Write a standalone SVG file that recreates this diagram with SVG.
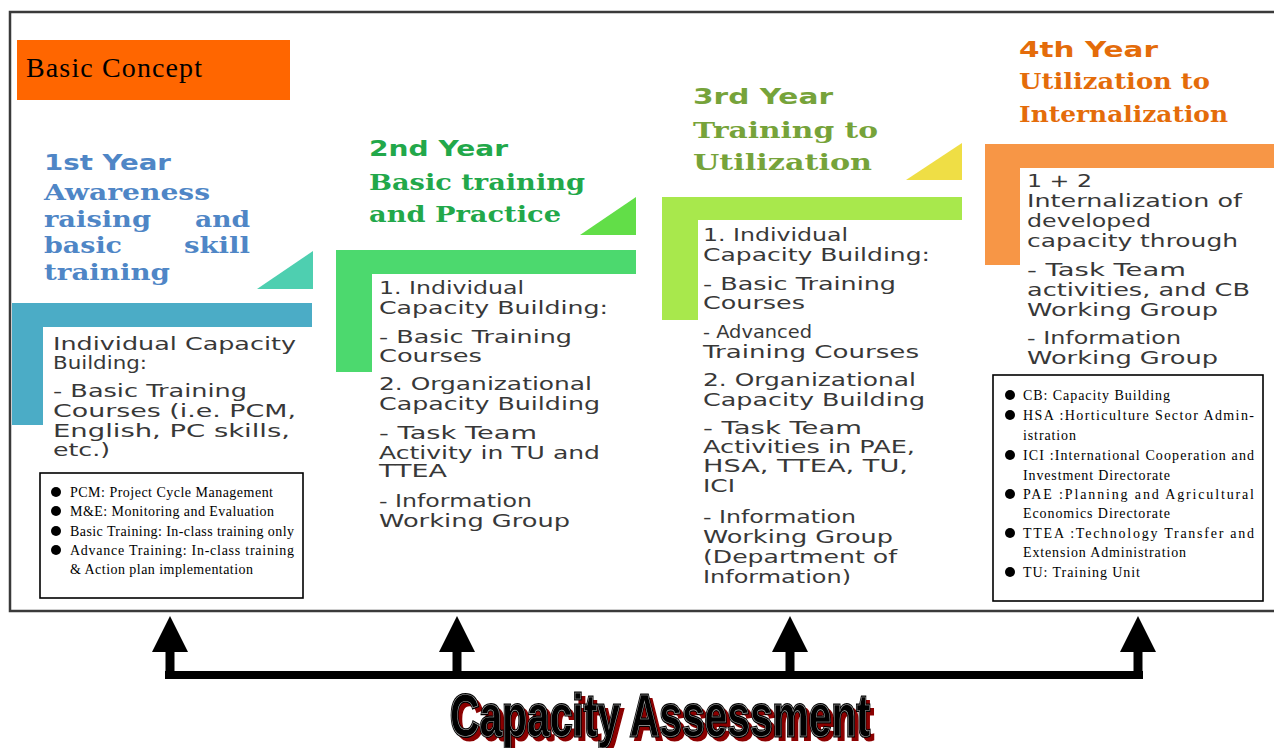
<svg xmlns="http://www.w3.org/2000/svg" width="1274" height="748" viewBox="0 0 1274 748">
<style>
.frame{fill:none;stroke:#3a3a3a;stroke-width:2.5}
.hd{font-family:"DejaVu Sans",sans-serif;font-weight:bold;font-size:22px}
.sub{font-family:"DejaVu Serif",serif;font-weight:bold;font-size:22px}
.body{font-family:"DejaVu Sans",sans-serif;font-size:18px;fill:#383838}
.leg{font-family:"Liberation Serif","Times New Roman",serif;font-size:14px;fill:#000}
.box{fill:#fff;stroke:#000;stroke-width:1.6}
.c1{fill:#4f86c6}.c2{fill:#22a84a}.c3{fill:#76a33a}.c4{fill:#e46c0a}
.conn{fill:none;stroke:#000}
</style>
<defs>
<marker id="ah" markerUnits="userSpaceOnUse" markerWidth="36" markerHeight="36" viewBox="0 0 36 36" refX="0" refY="18" orient="auto">
<path d="M0,0 L36,18 L0,36 Z" fill="#000"/>
</marker>
</defs>
<rect width="1274" height="748" fill="#fff"/>
<rect class="frame" x="10" y="12" width="1280" height="599"/>

<g id="title">
<rect x="17" y="40" width="273" height="60" fill="#ff6600"/>
<text x="26" y="77" font-family="Liberation Serif,serif" font-size="28" textLength="176">Basic Concept</text>
</g>

<g id="year1">
<text class="hd c1" x="44" y="170" textLength="127" lengthAdjust="spacingAndGlyphs">1st Year</text>
<text class="sub c1" x="44" y="200" textLength="166" lengthAdjust="spacingAndGlyphs">Awareness</text>
<text class="sub c1" x="44" y="227" textLength="107" lengthAdjust="spacingAndGlyphs">raising</text>
<text class="sub c1" x="195" y="227" textLength="55" lengthAdjust="spacingAndGlyphs">and</text>
<text class="sub c1" x="44" y="253" textLength="78" lengthAdjust="spacingAndGlyphs">basic</text>
<text class="sub c1" x="184" y="253" textLength="66" lengthAdjust="spacingAndGlyphs">skill</text>
<text class="sub c1" x="44" y="280" textLength="126" lengthAdjust="spacingAndGlyphs">training</text>
<polygon points="257,289 313,251 313,289" fill="#4ecfb0"/>
<path d="M12,303 H312 V327 H43 V425 H12 Z" fill="#4bacc6"/>
<text class="body" x="53" y="350" textLength="243" lengthAdjust="spacingAndGlyphs">Individual  Capacity</text>
<text class="body" x="53" y="369" textLength="94" lengthAdjust="spacingAndGlyphs">Building:</text>
<text class="body" x="53" y="397" textLength="194" lengthAdjust="spacingAndGlyphs">- Basic Training</text>
<text class="body" x="53" y="417" textLength="243" lengthAdjust="spacingAndGlyphs">Courses (i.e. PCM,</text>
<text class="body" x="53" y="437" textLength="237" lengthAdjust="spacingAndGlyphs">English, PC skills,</text>
<text class="body" x="53" y="456" textLength="57" lengthAdjust="spacingAndGlyphs">etc.)</text>
</g>

<g id="legend1">
<rect class="box" x="40" y="473" width="263" height="125"/>
<circle cx="56" cy="492" r="5"/><text class="leg" x="70" y="497" textLength="203">PCM: Project Cycle Management</text>
<circle cx="56" cy="511" r="5"/><text class="leg" x="70" y="516" textLength="204">M&amp;E: Monitoring and Evaluation</text>
<circle cx="56" cy="531" r="5"/><text class="leg" x="70" y="536" textLength="224">Basic Training: In-class training only</text>
<circle cx="56" cy="550" r="5"/><text class="leg" x="70" y="555" textLength="224">Advance Training: In-class training</text>
<text class="leg" x="70" y="574" textLength="183">&amp; Action plan implementation</text>
</g>

<g id="year2">
<text class="hd c2" x="369" y="156" textLength="139" lengthAdjust="spacingAndGlyphs">2nd Year</text>
<text class="sub c2" x="369" y="190" textLength="216" lengthAdjust="spacingAndGlyphs">Basic training</text>
<text class="sub c2" x="369" y="222" textLength="192" lengthAdjust="spacingAndGlyphs">and Practice</text>
<polygon points="580,235 636,197 636,235" fill="#62de48"/>
<path d="M336,250 H636 V274 H372 V372 H336 Z" fill="#4cd96e"/>
<text class="body" x="379" y="294" textLength="145" lengthAdjust="spacingAndGlyphs">1. Individual</text>
<text class="body" x="379" y="314" textLength="229" lengthAdjust="spacingAndGlyphs">Capacity Building:</text>
<text class="body" x="379" y="343" textLength="193" lengthAdjust="spacingAndGlyphs">- Basic Training</text>
<text class="body" x="379" y="362" textLength="103" lengthAdjust="spacingAndGlyphs">Courses</text>
<text class="body" x="379" y="390" textLength="213" lengthAdjust="spacingAndGlyphs">2. Organizational</text>
<text class="body" x="379" y="410" textLength="221" lengthAdjust="spacingAndGlyphs">Capacity Building</text>
<text class="body" x="379" y="439" textLength="158" lengthAdjust="spacingAndGlyphs">- Task Team</text>
<text class="body" x="379" y="459" textLength="221" lengthAdjust="spacingAndGlyphs">Activity in TU and</text>
<text class="body" x="379" y="477" textLength="68" lengthAdjust="spacingAndGlyphs">TTEA</text>
<text class="body" x="379" y="507" textLength="153" lengthAdjust="spacingAndGlyphs">- Information</text>
<text class="body" x="379" y="527" textLength="191" lengthAdjust="spacingAndGlyphs">Working Group</text>
</g>

<g id="year3">
<text class="hd c3" x="693" y="104" textLength="140" lengthAdjust="spacingAndGlyphs">3rd Year</text>
<text class="sub c3" x="693" y="138" textLength="185" lengthAdjust="spacingAndGlyphs">Training to</text>
<text class="sub c3" x="693" y="170" textLength="179" lengthAdjust="spacingAndGlyphs">Utilization</text>
<polygon points="906,180 962,143 962,180" fill="#efde45"/>
<path d="M662,197 H962 V220 H698 V320 H662 Z" fill="#a8e84c"/>
<text class="body" x="703" y="241" textLength="145" lengthAdjust="spacingAndGlyphs">1. Individual</text>
<text class="body" x="703" y="261" textLength="227" lengthAdjust="spacingAndGlyphs">Capacity Building:</text>
<text class="body" x="703" y="290" textLength="193" lengthAdjust="spacingAndGlyphs">- Basic Training</text>
<text class="body" x="703" y="309" textLength="102" lengthAdjust="spacingAndGlyphs">Courses</text>
<text class="body" x="703" y="338" textLength="109" lengthAdjust="spacingAndGlyphs">- Advanced</text>
<text class="body" x="703" y="358" textLength="216" lengthAdjust="spacingAndGlyphs">Training  Courses</text>
<text class="body" x="703" y="386" textLength="213" lengthAdjust="spacingAndGlyphs">2. Organizational</text>
<text class="body" x="703" y="406" textLength="222" lengthAdjust="spacingAndGlyphs">Capacity Building</text>
<text class="body" x="703" y="434" textLength="159" lengthAdjust="spacingAndGlyphs">- Task Team</text>
<text class="body" x="703" y="453" textLength="212" lengthAdjust="spacingAndGlyphs">Activities in PAE,</text>
<text class="body" x="703" y="472" textLength="205" lengthAdjust="spacingAndGlyphs">HSA, TTEA, TU,</text>
<text class="body" x="703" y="492" textLength="32" lengthAdjust="spacingAndGlyphs">ICI</text>
<text class="body" x="703" y="523" textLength="153" lengthAdjust="spacingAndGlyphs">- Information</text>
<text class="body" x="703" y="543" textLength="190" lengthAdjust="spacingAndGlyphs">Working Group</text>
<text class="body" x="703" y="563" textLength="194" lengthAdjust="spacingAndGlyphs">(Department  of</text>
<text class="body" x="703" y="583" textLength="148" lengthAdjust="spacingAndGlyphs">Information)</text>
</g>

<g id="year4">
<text class="hd c4" x="1019" y="57" textLength="139" lengthAdjust="spacingAndGlyphs">4th Year</text>
<text class="sub c4" x="1019" y="89" textLength="191" lengthAdjust="spacingAndGlyphs">Utilization to</text>
<text class="sub c4" x="1019" y="122" textLength="209" lengthAdjust="spacingAndGlyphs">Internalization</text>
<path d="M985,144 H1280 V168 H1020 V265 H985 Z" fill="#f79646"/>
<text class="body" x="1027" y="187" textLength="65" lengthAdjust="spacingAndGlyphs">1 + 2</text>
<text class="body" x="1027" y="207" textLength="215" lengthAdjust="spacingAndGlyphs">Internalization  of</text>
<text class="body" x="1027" y="227" textLength="124" lengthAdjust="spacingAndGlyphs">developed</text>
<text class="body" x="1027" y="247" textLength="211" lengthAdjust="spacingAndGlyphs">capacity through</text>
<text class="body" x="1027" y="276" textLength="159" lengthAdjust="spacingAndGlyphs">- Task Team</text>
<text class="body" x="1027" y="296" textLength="223" lengthAdjust="spacingAndGlyphs">activities, and CB</text>
<text class="body" x="1027" y="316" textLength="191" lengthAdjust="spacingAndGlyphs">Working Group</text>
<text class="body" x="1027" y="344" textLength="154" lengthAdjust="spacingAndGlyphs">- Information</text>
<text class="body" x="1027" y="364" textLength="191" lengthAdjust="spacingAndGlyphs">Working Group</text>
</g>

<g id="legend2">
<rect class="box" x="993" y="375" width="270" height="226"/>
<circle cx="1010" cy="395" r="5"/><text class="leg" x="1023" y="400" textLength="147">CB: Capacity Building</text>
<circle cx="1010" cy="415" r="5"/><text class="leg" x="1023" y="420" textLength="231">HSA :Horticulture Sector Admin-</text>
<text class="leg" x="1023" y="440" textLength="53">istration</text>
<circle cx="1010" cy="455" r="5"/><text class="leg" x="1023" y="460" textLength="231">ICI :International Cooperation and</text>
<text class="leg" x="1023" y="480" textLength="147">Investment Directorate</text>
<circle cx="1010" cy="494" r="5"/><text class="leg" x="1023" y="499" textLength="231">PAE :Planning and Agricultural</text>
<text class="leg" x="1023" y="518" textLength="147">Economics Directorate</text>
<circle cx="1010" cy="533" r="5"/><text class="leg" x="1023" y="538" textLength="231">TTEA :Technology Transfer and</text>
<text class="leg" x="1023" y="557" textLength="163">Extension Administration</text>
<circle cx="1010" cy="572" r="5"/><text class="leg" x="1023" y="577" textLength="117">TU: Training Unit</text>
</g>

<g id="connectors">
<path class="conn" stroke-width="8" d="M165,675 H1143"/>
<path class="conn" stroke-width="9" marker-end="url(#ah)" d="M170,679 V652"/>
<path class="conn" stroke-width="9" marker-end="url(#ah)" d="M457,679 V652"/>
<path class="conn" stroke-width="9" marker-end="url(#ah)" d="M790,679 V652"/>
<path class="conn" stroke-width="9" marker-end="url(#ah)" d="M1138,679 V652"/>
</g>

<g id="assessment" font-family="Liberation Sans,Arial,sans-serif" font-weight="bold" font-size="60">
<text x="454" y="740" fill="#8b0000" stroke="#8b0000" stroke-width="2" textLength="420" lengthAdjust="spacingAndGlyphs">Capacity Assessment</text>
<text x="450" y="736" fill="#000" stroke="#000" stroke-width="3" textLength="420" lengthAdjust="spacingAndGlyphs">Capacity Assessment</text>
<text x="450" y="736" fill="none" stroke="#aaa" stroke-width="0.7" textLength="420" lengthAdjust="spacingAndGlyphs">Capacity Assessment</text>
</g>
</svg>
